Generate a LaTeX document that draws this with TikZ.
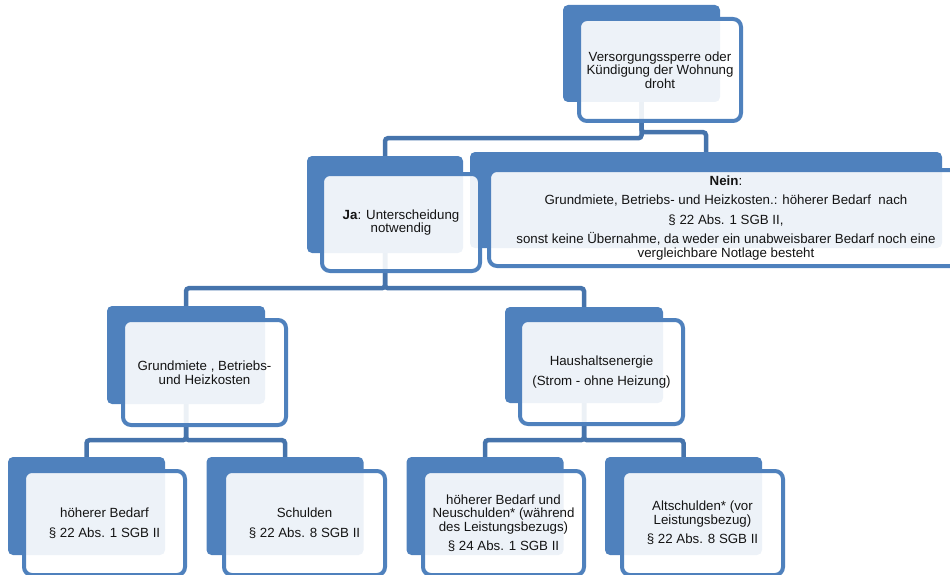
\documentclass[tikz,border=0pt]{standalone}
\usepackage{fontspec}
\setmainfont{Liberation Sans}
\definecolor{boxblue}{RGB}{79,129,189}
\definecolor{connblue}{RGB}{70,116,172}
\definecolor{txt}{RGB}{20,20,20}
\begin{document}
\begin{tikzpicture}[x=1pt,y=-1pt,
  backbox/.style={fill=boxblue, rounded corners=5pt, inner sep=0pt,
    minimum width=157pt, minimum height=97pt},
  frontbox/.style={draw=boxblue, line width=4pt, fill=white, fill opacity=0.9,
    text opacity=1, text=txt, rounded corners=8pt, inner sep=0pt, align=center,
    minimum width=161pt, minimum height=104pt,
    font=\fontsize{13.3}{13.5}\selectfont},
  conn/.style={draw=connblue, line width=4.5pt, rounded corners=3pt}]
\useasboundingbox (0,0) rectangle (950,575);
\clip (0,0) rectangle (950,575);

% back boxes
\node[backbox] (b0) at (641.5,53.5) {};
\node[backbox, minimum width=156pt] (b1) at (385,204.5) {};
\node[backbox, minimum width=472pt, minimum height=96pt] (b2) at (706,200) {};
\node[backbox, minimum width=158pt, minimum height=98pt] (b3) at (186,355) {};
\node[backbox, minimum width=158pt, minimum height=96pt] (b4) at (584,355) {};
\node[backbox, minimum height=98pt] (b5) at (86.5,506) {};
\node[backbox, minimum height=98pt] (b6) at (285,506) {};
\node[backbox, minimum height=98pt] (b7) at (485,506) {};
\node[backbox, minimum height=98pt] (b8) at (683.5,506) {};

% connectors
\draw[conn] (b0.south) -- ++(0,36) -| (b1.north);
\draw[conn] (b0.south) -- ++(0,30) -| (b2.north);
\draw[conn] (b1.south) -- ++(0,35) -| (b3.north);
\draw[conn] (b1.south) -- ++(0,35) -| (b4.north);
\draw[conn] (b3.south) -- ++(0,36) -| (b5.north);
\draw[conn] (b3.south) -- ++(0,36) -| (b6.north);
\draw[conn] (b4.south) -- ++(0,37) -| (b7.north);
\draw[conn] (b4.south) -- ++(0,37) -| (b8.north);

% front boxes
\node[frontbox, minimum width=162pt, minimum height=102pt] (f0) at (660,70)
  {Versorgungssperre oder\\Kündigung der Wohnung\\droht};
\node[frontbox, minimum width=158pt, minimum height=97pt] (f1) at (401,222.5)
  {\textbf{Ja}: Unterscheidung\\notwendig};
\node[frontbox, minimum width=474pt, minimum height=96pt] (f2) at (726,218)
  {\textbf{Nein}:\\[6pt]Grundmiete, Betriebs- und Heizkosten.: höherer Bedarf~~nach\\[6pt]§ 22 Abs. 1 SGB II,\\[6pt]sonst keine Übernahme, da weder ein unabweisbarer Bedarf noch eine\\vergleichbare Notlage besteht};
\node[frontbox, minimum width=163pt, minimum height=105pt] (f3) at (204.5,372.5)
  {Grundmiete , Betriebs-\\und Heizkosten};
\node[frontbox, minimum width=163pt, minimum height=104pt] (f4) at (601.5,372)
  {Haushaltsenergie\\[6pt](Strom - ohne Heizung)};
\node[frontbox] (f5) at (104.5,523) {höherer Bedarf\\[6pt]§ 22 Abs. 1 SGB II};
\node[frontbox] (f6) at (304.5,523) {Schulden\\[6pt]§ 22 Abs. 8 SGB II};
\node[frontbox] (f7) at (503.5,523)
  {höherer Bedarf und\\Neuschulden* (während\\des Leistungsbezugs)\\[6pt]§ 24 Abs. 1 SGB II};
\node[frontbox] (f8) at (702.5,523)
  {Altschulden* (vor\\Leistungsbezug)\\[6pt]§ 22 Abs. 8 SGB II};
\end{tikzpicture}
\end{document}
